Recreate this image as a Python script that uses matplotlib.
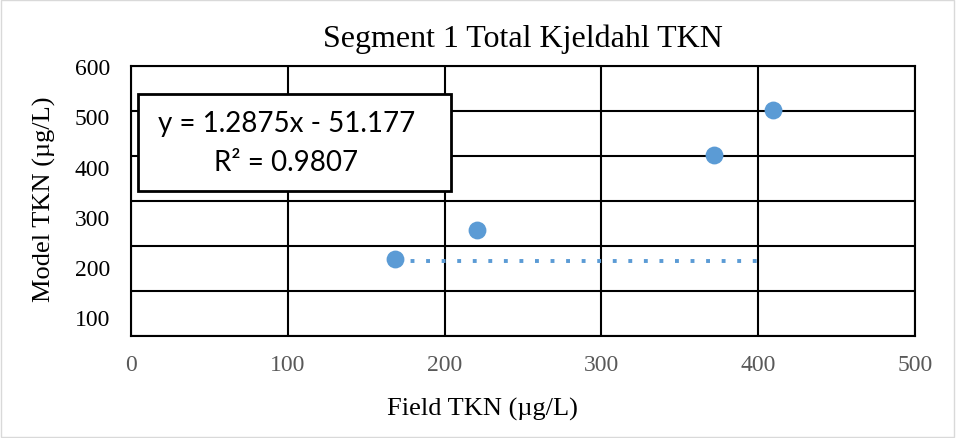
import matplotlib
matplotlib.use("Agg")
import matplotlib.pyplot as plt
from matplotlib.patches import Rectangle

# Field vs model TKN for segment 1 (µg/L)
field_tkn = [168.5, 220.8, 372.0, 409.7]
model_tkn = [171.0, 236.0, 402.0, 502.0]

# dotted trendline as it is drawn on the chart
trend_x = [168.5, 406.5]
trend_y = [168.0, 168.0]

x_ticks = [0, 100, 200, 300, 400, 500]
y_grid = [0, 100, 200, 300, 400, 500, 600]
y_labels = [100, 200, 300, 400, 500, 600]

equation = "y = 1.2875x - 51.177"
r_squared = "R² = 0.9807"

SERIF = "Liberation Serif"
BLUE = "#5B9BD5"

fig = plt.figure(figsize=(9.56, 4.39), dpi=100)
fig.patches.append(Rectangle((0.001, 0.002), 0.997, 0.995, transform=fig.transFigure,
                             fill=False, edgecolor="#d9d9d9", linewidth=1.0))

ax = fig.add_axes([0.137, 0.232, 0.820, 0.615])
ax.set_xlim(0, 500)
ax.set_ylim(0, 600)
ax.set_xticks(x_ticks)
ax.set_yticks(y_grid)
ax.set_yticklabels([])
ax.grid(True, color="black", linewidth=1.5)
ax.set_axisbelow(True)
for s in ax.spines.values():
    s.set_color("black")
    s.set_linewidth(1.5)
ax.tick_params(axis="both", length=0)
ax.tick_params(axis="x", pad=13, labelsize=17, labelcolor="#595959")
for lab in ax.get_xticklabels():
    lab.set_fontfamily(SERIF)

# y labels sit on their own scale on the left
ay = ax.twinx()
ay.set_ylim(62, 600)
ay.set_yticks(y_labels)
ay.yaxis.tick_left()
ay.tick_params(axis="y", length=0, pad=15, labelsize=17, labelcolor="black")
for lab in ay.get_yticklabels():
    lab.set_fontfamily(SERIF)
for s in ay.spines.values():
    s.set_visible(False)

ax.plot(trend_x, trend_y, color=BLUE, linewidth=2.8, linestyle=(0, (1, 3)),
        dash_capstyle="butt", zorder=3)
ax.scatter(field_tkn, model_tkn, s=165, color=BLUE, zorder=4, linewidths=0)

# equation box
ax.add_patch(Rectangle((0.009, 0.537), 0.399, 0.359, transform=ax.transAxes,
                       facecolor="white", edgecolor="black", linewidth=2.0, zorder=5))
ax.text(0.198, 0.789, equation, transform=ax.transAxes, ha="center", va="center",
        fontsize=20, fontfamily="Lato", zorder=6)
ax.text(0.198, 0.644, r_squared, transform=ax.transAxes, ha="center", va="center",
        fontsize=20, fontfamily="Lato", zorder=6)

fig.text(0.547, 0.91, "Segment 1 Total Kjeldahl TKN", ha="center", va="center",
         fontsize=23, fontfamily=SERIF)
fig.text(0.505, 0.068, "Field TKN (µg/L)", ha="center", va="center",
         fontsize=19, fontfamily=SERIF)
fig.text(0.047, 0.545, "Model TKN (µg/L)", ha="center", va="center", rotation=90,
         fontsize=19, fontfamily=SERIF)

fig.savefig("out.png", dpi=100)
